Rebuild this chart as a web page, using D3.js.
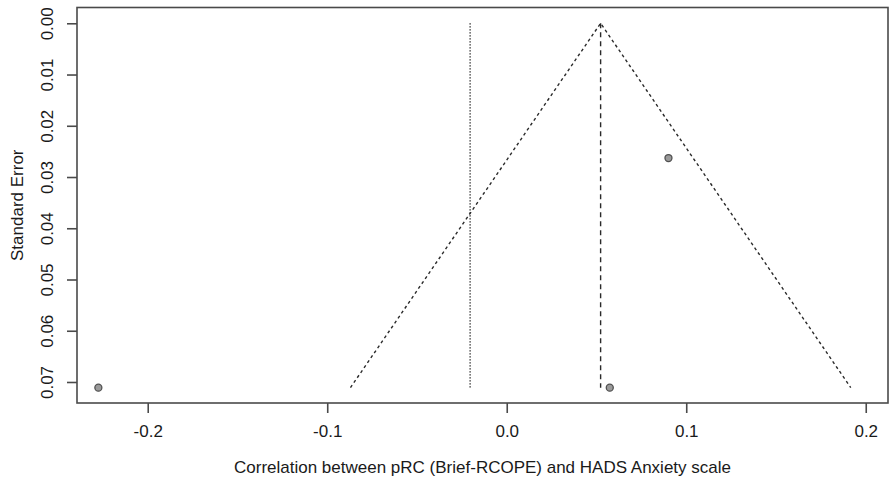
<!DOCTYPE html>
<html>
<head>
<meta charset="utf-8">
<script src="https://cdn.jsdelivr.net/npm/d3@7"></script>
<style>
  body { margin: 0; background: #fff; }
  svg { display: block; font-family: "Liberation Sans", Arial, sans-serif; }
</style>
</head>
<body>
<svg id="chart" width="889" height="480"></svg>
<script>
// study estimates (correlations) and their standard errors
const estimates = [-0.2275, 0.0574, 0.0901];
const stdErrors = [0.0711, 0.0711, 0.0263];

// pooled estimate (dashed line / funnel centre) and second reference (dotted line)
const pooled = 0.0523;
const otherRef = -0.0204;

const xTicks = [-0.2, -0.1, 0.0, 0.1, 0.2];
const yTicks = [0.00, 0.01, 0.02, 0.03, 0.04, 0.05, 0.06, 0.07];

const xLabel = "Correlation between pRC (Brief-RCOPE) and HADS Anxiety scale";
const yLabel = "Standard Error";

const svg = d3.select('#chart');
const box = {left: 77, right: 888, top: 7.5, bottom: 403};

const x = d3.scaleLinear()
    .domain([-0.2394, 0.2124])
    .range([box.left, box.right]);

const y = d3.scaleLinear()
    .domain([-0.00308, 0.0741])
    .range([box.top, box.bottom]);

const seMax = d3.max(stdErrors);
const axisColor = '#4a4a4a';
const textColor = '#1a1a1a';

// R prints a plain hyphen, not the unicode minus d3 uses
const fmt1 = d => d3.format('.1f')(d).replace('\u2212', '-');

// funnel (pseudo 95% limits)
const funnel = [
    [pooled - 1.96 * seMax, seMax],
    [pooled, 0],
    [pooled + 1.96 * seMax, seMax]
];
svg.append('path')
    .attr('d', d3.line().x(d => x(d[0])).y(d => y(d[1]))(funnel))
    .attr('fill', 'none')
    .attr('stroke', '#2a2a2a')
    .attr('stroke-width', 1.4)
    .attr('stroke-dasharray', '3,3');

// pooled estimate line
svg.append('line')
    .attr('x1', x(pooled)).attr('x2', x(pooled))
    .attr('y1', y(0)).attr('y2', y(seMax))
    .attr('stroke', '#2a2a2a')
    .attr('stroke-width', 1.4)
    .attr('stroke-dasharray', '5,4');

// dotted reference
svg.append('line')
    .attr('x1', x(otherRef)).attr('x2', x(otherRef))
    .attr('y1', y(0)).attr('y2', y(seMax))
    .attr('stroke', '#2a2a2a')
    .attr('stroke-width', 1.4)
    .attr('stroke-dasharray', '1.3,1.7');

// studies
svg.selectAll('circle.study')
    .data(estimates.map((e, i) => ({est: e, se: stdErrors[i]})))
    .enter().append('circle')
    .attr('class', 'study')
    .attr('cx', d => x(d.est))
    .attr('cy', d => y(d.se))
    .attr('r', 3.5)
    .attr('fill', '#9a9a9a')
    .attr('stroke', '#505050')
    .attr('stroke-width', 1.3);

// frame
svg.append('rect')
    .attr('x', box.left).attr('y', box.top)
    .attr('width', box.right - box.left)
    .attr('height', box.bottom - box.top)
    .attr('fill', 'none')
    .attr('stroke', axisColor)
    .attr('stroke-width', 1.6);

// x axis
const xAxis = d3.axisBottom(x)
    .tickValues(xTicks)
    .tickSize(10)
    .tickPadding(6)
    .tickFormat(fmt1);

const gx = svg.append('g')
    .attr('transform', `translate(0,${box.bottom})`)
    .call(xAxis);
gx.select('.domain').remove();
gx.selectAll('.tick line').attr('stroke', axisColor).attr('stroke-width', 1.6);
gx.selectAll('.tick text')
    .attr('fill', textColor)
    .style('font-size', '17px')
    .attr('y', 22);

// y axis (labels rotated as in R's base graphics)
const yAxis = d3.axisLeft(y)
    .tickValues(yTicks)
    .tickSize(10)
    .tickFormat(d3.format('.2f'));

const gy = svg.append('g')
    .attr('transform', `translate(${box.left},0)`)
    .call(yAxis);
gy.select('.domain').remove();
gy.selectAll('.tick line').attr('stroke', axisColor).attr('stroke-width', 1.6);
gy.selectAll('.tick text')
    .attr('fill', textColor)
    .style('font-size', '17px')
    .attr('x', null).attr('dy', null)
    .attr('text-anchor', 'middle')
    .attr('dominant-baseline', 'central')
    .attr('transform', 'translate(-30,0) rotate(-90)');

// axis titles
svg.append('text')
    .attr('x', (box.left + box.right) / 2)
    .attr('y', 467)
    .attr('text-anchor', 'middle')
    .attr('dominant-baseline', 'central')
    .attr('fill', textColor)
    .style('font-size', '17px')
    .text(xLabel);

svg.append('text')
    .attr('transform', `translate(17,${(box.top + box.bottom) / 2}) rotate(-90)`)
    .attr('text-anchor', 'middle')
    .attr('dominant-baseline', 'central')
    .attr('fill', textColor)
    .style('font-size', '17px')
    .text(yLabel);
</script>
</body>
</html>
